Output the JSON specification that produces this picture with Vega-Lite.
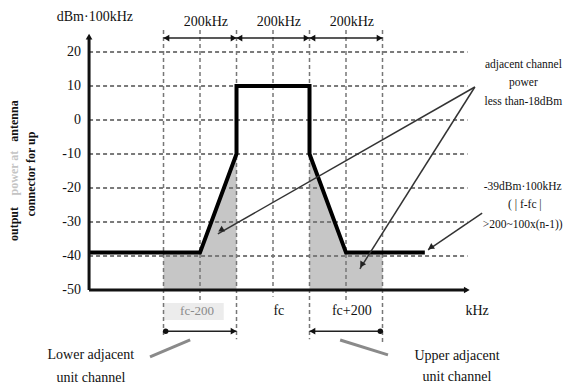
{
  "$schema": "https://vega.github.io/schema/vega-lite/v6.json",
  "width": 567,
  "height": 387,
  "autosize": {"type": "none"},
  "padding": 0,
  "background": "white",
  "config": {"view": {"stroke": null}},
  "datasets": {
    "shade": [
      {"k": -300, "db": -39, "side": "L"}, {"k": -200, "db": -39, "side": "L"}, {"k": -100, "db": -10, "side": "L"},
      {"k": 100, "db": -10, "side": "R"}, {"k": 200, "db": -39, "side": "R"}, {"k": 300, "db": -39, "side": "R"}
    ],
    "hgrid": [
      {"db": 20, "k": -504, "k2": 533}, {"db": 10, "k": -504, "k2": 533}, {"db": 0, "k": -504, "k2": 533},
      {"db": -10, "k": -504, "k2": 533}, {"db": -20, "k": -504, "k2": 533}, {"db": -30, "k": -504, "k2": 533},
      {"db": -40, "k": -504, "k2": 533}
    ],
    "vgrid": [
      {"k": -300, "db": 26.5, "db2": -63.5}, {"k": -200, "db": 26.5, "db2": -53}, {"k": -100, "db": 26.5, "db2": -64.5},
      {"k": 0, "db": 26.5, "db2": -52}, {"k": 100, "db": 26.5, "db2": -64.5}, {"k": 200, "db": 26.5, "db2": -53},
      {"k": 300, "db": 26.5, "db2": -65.5}
    ],
    "mask": [
      {"i": 1, "k": -504, "db": -39}, {"i": 2, "k": -200, "db": -39}, {"i": 3, "k": -100, "db": -10},
      {"i": 4, "k": -100, "db": 10}, {"i": 5, "k": 100, "db": 10}, {"i": 6, "k": 100, "db": -10},
      {"i": 7, "k": 200, "db": -39}, {"i": 8, "k": 416, "db": -39}
    ],
    "axes": [
      {"k": -504, "db": -50, "k2": -504, "db2": 24},
      {"k": -504, "db": -50, "k2": 530, "db2": -50}
    ],
    "dims": [
      {"k": -300, "k2": -100, "db": 24.1, "db2": 24.1}, {"k": -100, "k2": 100, "db": 24.1, "db2": 24.1},
      {"k": 100, "k2": 300, "db": 24.1, "db2": 24.1}, {"k": -300, "k2": -100, "db": -62.1, "db2": -62.1},
      {"k": 100, "k2": 300, "db": -62.1, "db2": -62.1}
    ],
    "heads": [
      {"k": -504, "db": 24.5, "dir": "up"}, {"k": 531, "db": -50, "dir": "right"},
      {"k": -292, "db": 24.1, "dir": "left"}, {"k": -108, "db": 24.1, "dir": "right"},
      {"k": -92, "db": 24.1, "dir": "left"}, {"k": 92, "db": 24.1, "dir": "right"},
      {"k": 108, "db": 24.1, "dir": "left"}, {"k": 292, "db": 24.1, "dir": "right"},
      {"k": -108, "db": -62.1, "dir": "right"}, {"k": 108, "db": -62.1, "dir": "left"}
    ],
    "dots": [{"k": -294, "db": -62.1}, {"k": 294, "db": -62.1}],
    "pointers": [
      {"id": "a1", "k": 553, "db": 9.7, "k2": -151, "db2": -33.5},
      {"id": "a2", "k": 553, "db": 9.7, "k2": 238, "db2": -43.8},
      {"id": "a3", "k": 573, "db": -27.4, "k2": 425, "db2": -38.2}
    ],
    "pheads": [
      {"id": "a1", "k": -143, "db": -32.4},
      {"id": "a2", "k": 243, "db": -42.6},
      {"id": "a3", "k": 432, "db": -37.5}
    ],
    "graylines": [
      {"k": -337, "db": -69.7, "k2": -227, "db2": -64.7},
      {"k": 184, "db": -64.7, "k2": 315, "db2": -69.1}
    ],
    "boxes": [{"k": -300, "k2": -135, "db": -53.8, "db2": -58.8}],
    "ticks": [
      {"k": -526, "db": 20, "t": "20"}, {"k": -526, "db": 10, "t": "10"}, {"k": -526, "db": 0, "t": "0"},
      {"k": -526, "db": -10, "t": "-10"}, {"k": -526, "db": -20, "t": "-20"}, {"k": -526, "db": -30, "t": "-30"},
      {"k": -526, "db": -40, "t": "-40"}, {"k": -526, "db": -50, "t": "-50"}
    ],
    "labels": [
      {"k": -488, "db": 30.3, "t": "dBm·100kHz"},
      {"k": -184, "db": 28.7, "t": "200kHz"}, {"k": 16, "db": 28.7, "t": "200kHz"}, {"k": 216, "db": 28.7, "t": "200kHz"},
      {"k": 16, "db": -56.2, "t": "fc"}, {"k": 216, "db": -56.2, "t": "fc+200"}, {"k": 559, "db": -56.2, "t": "kHz"},
      {"k": -499, "db": -69.1, "t": "Lower adjacent"}, {"k": -499, "db": -75.9, "t": "unit channel"},
      {"k": 504, "db": -69.4, "t": "Upper adjacent"}, {"k": 504, "db": -75.6, "t": "unit channel"}
    ],
    "graylabels": [{"k": -208, "db": -56.2, "t": "fc-200"}],
    "notes": [
      {"k": 686, "db": 16.2, "t": "adjacent channel"}, {"k": 686, "db": 10.9, "t": "power"},
      {"k": 686, "db": 5.3, "t": "less than-18dBm"},
      {"k": 684, "db": -19.7, "t": "-39dBm·100kHz"}, {"k": 690, "db": -25, "t": "( | f-fc |"},
      {"k": 684, "db": -30.9, "t": ">200~100x(n-1))"}
    ],
    "ytitle": [
      {"k": -709, "db": -0.3, "t": "antenna"}, {"k": -709, "db": -30.6, "t": "output"},
      {"k": -663, "db": -15.9, "t": "connector for up"}
    ],
    "ytitlegray": [{"k": -709, "db": -15.6, "t": "power at"}]
  },
  "encoding": {
    "x": {"field": "k", "type": "quantitative", "scale": {"domain": [-748, 805.5], "nice": false, "zero": false}, "axis": null},
    "y": {"field": "db", "type": "quantitative", "scale": {"domain": [-78.53, 35.29], "nice": false, "zero": false}, "axis": null}
  },
  "layer": [
    {
      "data": {"name": "shade"},
      "mark": {"type": "area", "color": "#c6c6c6", "opacity": 1},
      "encoding": {"y2": {"datum": -50}, "detail": {"field": "side", "type": "nominal"}}
    },
    {
      "data": {"name": "boxes"},
      "mark": {"type": "rect", "color": "#ececec"},
      "encoding": {"x2": {"field": "k2"}, "y2": {"field": "db2"}}
    },
    {
      "data": {"name": "hgrid"},
      "mark": {"type": "rule", "color": "#7a7a7a", "strokeWidth": 2, "strokeDash": [4, 3]},
      "encoding": {"x2": {"field": "k2"}}
    },
    {
      "data": {"name": "vgrid"},
      "mark": {"type": "rule", "color": "#777777", "strokeWidth": 1.5, "strokeDash": [4, 3]},
      "encoding": {"y2": {"field": "db2"}}
    },
    {
      "data": {"name": "mask"},
      "mark": {"type": "line", "color": "#000000", "strokeWidth": 4, "strokeJoin": "miter"},
      "encoding": {"order": {"field": "i", "type": "quantitative"}}
    },
    {
      "data": {"name": "axes"},
      "mark": {"type": "rule", "color": "#111111", "strokeWidth": 3},
      "encoding": {"x2": {"field": "k2"}, "y2": {"field": "db2"}}
    },
    {
      "data": {"name": "dims"},
      "mark": {"type": "rule", "color": "#222222", "strokeWidth": 1.5},
      "encoding": {"x2": {"field": "k2"}, "y2": {"field": "db2"}}
    },
    {
      "data": {"name": "heads"},
      "mark": {"type": "point", "filled": true, "color": "#111111", "opacity": 1, "size": 45},
      "encoding": {
        "shape": {"field": "dir", "type": "nominal", "scale": {"domain": ["up", "left", "right"], "range": ["triangle-up", "triangle-left", "triangle-right"]}, "legend": null}
      }
    },
    {
      "data": {"name": "dots"},
      "mark": {"type": "point", "filled": true, "shape": "circle", "color": "#111111", "opacity": 1, "size": 30}
    },
    {
      "data": {"name": "pointers"},
      "mark": {"type": "rule", "color": "#333333", "strokeWidth": 1.5},
      "encoding": {"x2": {"field": "k2"}, "y2": {"field": "db2"}}
    },
    {
      "data": {"name": "pheads"},
      "transform": [{"filter": "datum.id === 'a1'"}],
      "mark": {"type": "point", "filled": true, "shape": "triangle-up", "angle": 240, "color": "#222222", "opacity": 1, "size": 45}
    },
    {
      "data": {"name": "pheads"},
      "transform": [{"filter": "datum.id === 'a2'"}],
      "mark": {"type": "point", "filled": true, "shape": "triangle-up", "angle": 212, "color": "#222222", "opacity": 1, "size": 45}
    },
    {
      "data": {"name": "pheads"},
      "transform": [{"filter": "datum.id === 'a3'"}],
      "mark": {"type": "point", "filled": true, "shape": "triangle-up", "angle": 236, "color": "#222222", "opacity": 1, "size": 45}
    },
    {
      "data": {"name": "graylines"},
      "mark": {"type": "rule", "color": "#8a8a8a", "strokeWidth": 3},
      "encoding": {"x2": {"field": "k2"}, "y2": {"field": "db2"}}
    },
    {
      "data": {"name": "ticks"},
      "mark": {"type": "text", "align": "right", "baseline": "middle", "font": "Liberation Serif", "fontSize": 14, "color": "#111111"},
      "encoding": {"text": {"field": "t"}}
    },
    {
      "data": {"name": "labels"},
      "mark": {"type": "text", "align": "center", "baseline": "middle", "font": "Liberation Serif", "fontSize": 14, "color": "#111111"},
      "encoding": {"text": {"field": "t"}}
    },
    {
      "data": {"name": "graylabels"},
      "mark": {"type": "text", "align": "center", "baseline": "middle", "font": "Liberation Serif", "fontSize": 13, "color": "#8a8a8a"},
      "encoding": {"text": {"field": "t"}}
    },
    {
      "data": {"name": "notes"},
      "mark": {"type": "text", "align": "center", "baseline": "middle", "font": "Liberation Serif", "fontSize": 11.5, "color": "#111111"},
      "encoding": {"text": {"field": "t"}}
    },
    {
      "data": {"name": "ytitle"},
      "mark": {"type": "text", "align": "center", "baseline": "middle", "angle": 270, "font": "Liberation Serif", "fontSize": 12, "fontWeight": "bold", "color": "#111111"},
      "encoding": {"text": {"field": "t"}}
    },
    {
      "data": {"name": "ytitlegray"},
      "mark": {"type": "text", "align": "center", "baseline": "middle", "angle": 270, "font": "Liberation Serif", "fontSize": 12, "fontWeight": "bold", "color": "#c4c4c4"},
      "encoding": {"text": {"field": "t"}}
    }
  ]
}
